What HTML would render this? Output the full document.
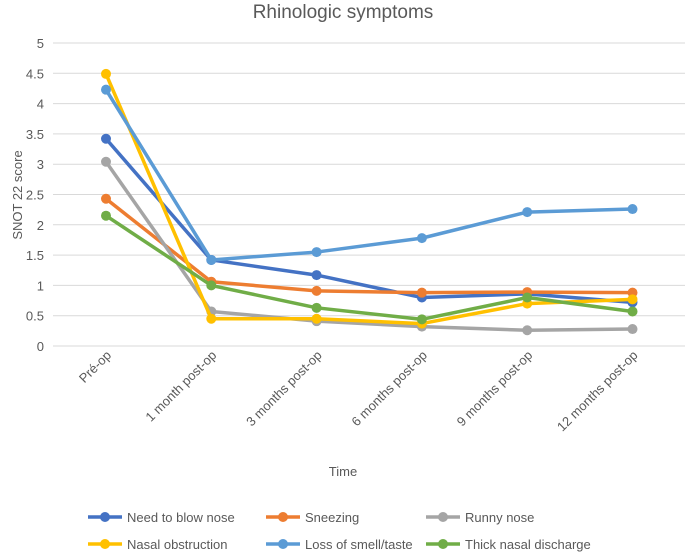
<!DOCTYPE html>
<html><head><meta charset="utf-8"><style>
body{margin:0;background:#fff;font-family:"Liberation Sans",sans-serif}
svg text{font-family:"Liberation Sans",sans-serif;fill:#595959}
</style></head><body>
<svg width="685" height="552">
<rect width="685" height="552" fill="#fff"/>
<text x="343" y="18" text-anchor="middle" font-size="19">Rhinologic symptoms</text>
<g id="grid"></g><g id="series"></g>
<text transform="translate(22,195) rotate(-90)" text-anchor="middle" font-size="13">SNOT 22 score</text>
<text x="343" y="476" text-anchor="middle" font-size="13">Time</text>
<g id="legend"></g>
</svg>
<script>
const categories=["Pré-op","1 month post-op","3 months post-op","6 months post-op","9 months post-op","12 months post-op"];
const yTicks=[0,0.5,1,1.5,2,2.5,3,3.5,4,4.5,5];
const names=["Need to blow nose","Sneezing","Runny nose","Nasal obstruction","Loss of smell/taste","Thick nasal discharge"];
const colors=["#4472C4","#ED7D31","#A5A5A5","#FFC000","#5B9BD5","#70AD47"];
const blowNose=[3.42,1.42,1.17,0.80,0.86,0.72];
const sneezing=[2.43,1.06,0.91,0.88,0.89,0.88];
const runny=[3.04,0.57,0.41,0.32,0.26,0.28];
const obstruction=[4.49,0.45,0.45,0.37,0.70,0.77];
const smell=[4.23,1.42,1.55,1.78,2.21,2.26];
const discharge=[2.15,1.00,0.63,0.44,0.80,0.57];
const series=[blowNose,sneezing,runny,obstruction,smell,discharge];
const NS="http://www.w3.org/2000/svg";
const y=v=>346-v*60.6, x=i=>106+i*105.3;
function mk(t,a,p){const e=document.createElementNS(NS,t);for(const k in a)e.setAttribute(k,a[k]);p.appendChild(e);return e;}
const g=document.getElementById('grid');
yTicks.forEach(v=>{
 const l=mk('line',{x1:53,x2:685,y1:y(v),y2:y(v),stroke:'#d9d9d9','stroke-width':1},g);
 
 
 const t=mk('text',{x:44,y:y(v)+5,'text-anchor':'end','font-size':13},g);t.textContent=v;
 
 
});
categories.forEach((c,i)=>{
 const t=mk('text',{transform:`translate(${x(i)+6},356) rotate(-45)`,'text-anchor':'end','font-size':13},g);t.textContent=c;
 
 
});
const s=document.getElementById('series');
series.forEach((d,k)=>{
 const grp=mk('g',{},s);
 
 
 mk('polyline',{points:d.map((v,i)=>x(i)+','+y(v)).join(' '),fill:'none',stroke:colors[k],'stroke-width':3.5,'stroke-linejoin':'round'},grp);
 d.forEach((v,i)=>{const c=mk('circle',{cx:x(i),cy:y(v),r:5,fill:colors[k]},grp);
  
  });
});
const L=document.getElementById('legend');
const lx=[88,266,426],ly=[522,549];
names.forEach((n,k)=>{
 const px=lx[k%3],py=ly[Math.floor(k/3)];
 const e=mk('g',{},L);
 
 
 mk('line',{x1:px,x2:px+34,y1:py-5,y2:py-5,stroke:colors[k],'stroke-width':3.5},e);
 mk('circle',{cx:px+17,cy:py-5,r:5,fill:colors[k]},e);
 const t=mk('text',{x:px+39,y:py,'font-size':13},e);t.textContent=n;
});
</script>
</body></html>
